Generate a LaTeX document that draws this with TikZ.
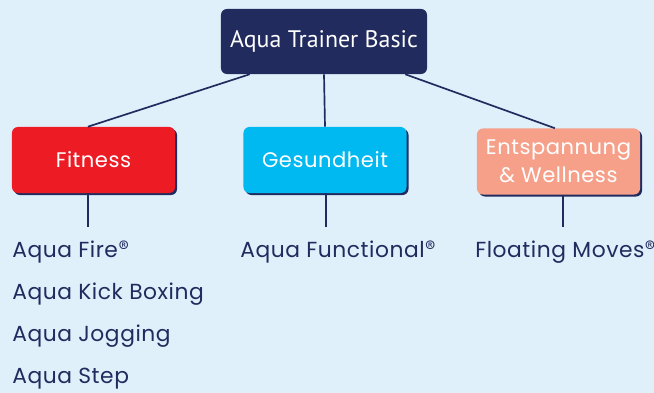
\documentclass[tikz,border=0pt]{standalone}
\usepackage{fontspec}
\setmainfont{Poppins}
\newfontfamily\listfont[LetterSpace=2.5]{Poppins}
\newfontfamily\headfont{PT Sans}
\usetikzlibrary{shadows}
\definecolor{navy}{HTML}{222B5E}
\definecolor{bgblue}{HTML}{DFF0FB}
\definecolor{fitred}{HTML}{ED1C24}
\definecolor{gescyan}{HTML}{00B9F0}
\definecolor{wellsalmon}{HTML}{F6A08A}
\newcommand{\reg}{\raisebox{0.5ex}{\headfont\fontsize{11.5}{12}\selectfont ®}}

\begin{document}
\begin{tikzpicture}[x=0.025cm,y=-0.025cm,
	topbox/.style={fill=navy, rounded corners=0.15cm, minimum width=5.15cm, minimum height=1.625cm, text=white, font=\headfont\fontsize{17}{20}\selectfont},
	catbox/.style={rounded corners=0.15cm, minimum width=4.075cm, minimum height=1.65cm, text=white, align=center, font=\listfont\fontsize{15}{20}\selectfont,
		drop shadow={shadow xshift=0.05cm, shadow yshift=-0.05cm, fill=navy, opacity=1}},
	item/.style={anchor=base west, inner sep=0pt, text=navy, font=\listfont\fontsize{15.5}{18}\selectfont},
	link/.style={navy, line width=1.2pt}]
	\useasboundingbox (0,0) rectangle (654,393);
	\fill[bgblue] (0,0) rectangle (654,393);
	\node[topbox] (top) at (324,41.5) {Aqua Trainer Basic};
	\node[catbox, fill=fitred] (fitness) at (93.5,160) {Fitness};
	\node[catbox, fill=gescyan] (gesund) at (325,160) {Gesundheit};
	\node[catbox, fill=wellsalmon] (well) at (558.5,161.5) {Entspannung\\\& Wellness};
	\draw[link] ([xshift=0.725cm]top.south west) -- ([xshift=-0.14cm]fitness.north);
	\draw[link] (top.south) -- (gesund.north);
	\draw[link] ([xshift=-0.55cm]top.south east) -- ([xshift=-0.09cm]well.north);
	\coordinate (fitend) at (88,227);
	\coordinate (gesend) at (326,227);
	\coordinate (wellend) at (563,227);
	\draw[link] (fitend |- fitness.south) -- (fitend);
	\draw[link] (gesend |- gesund.south) -- (gesend);
	\draw[link] (wellend |- well.south) -- (wellend);
	\foreach \name/\txt [count=\i] in {fire/Aqua Fire\reg, kick/Aqua Kick Boxing, jog/Aqua Jogging, stepitem/Aqua Step}
		\node[item] (\name) at (12,{258+41.7*(\i-1)}) {\txt};
	\node[item] (functional) at (240,258) {Aqua Functional\reg};
	\node[item] (floating) at (475,258) {Floating Moves\reg};
\end{tikzpicture}
\end{document}
